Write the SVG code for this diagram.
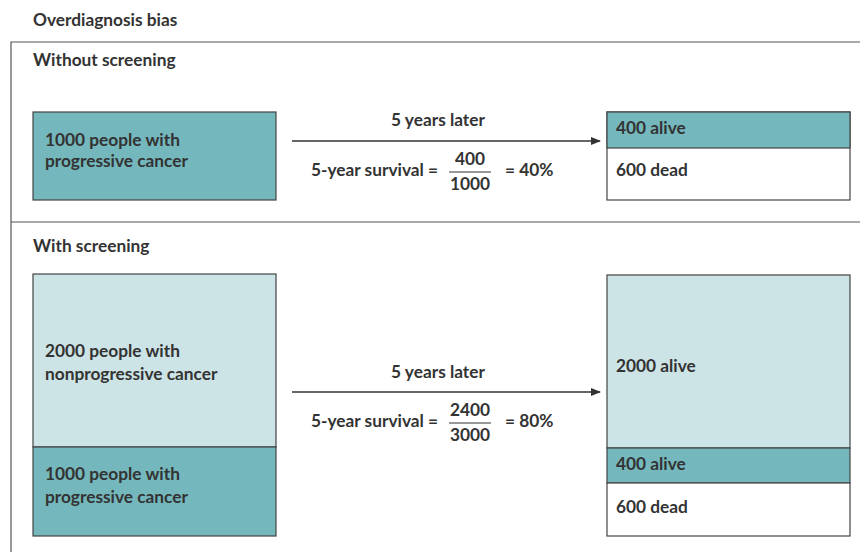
<svg xmlns="http://www.w3.org/2000/svg" width="860" height="552" viewBox="0 0 860 552">
<style>
text{font-family:Lato,"Open Sans",sans-serif;font-weight:700;font-size:17.3px;fill:#333}
.frame{stroke:#555;stroke-width:1.2;fill:none}
.box{stroke:#444;stroke-width:1.2}
.dark{fill:#74b8bd}
.light{fill:#cde4e6}
.white{fill:#fff}
.mid{text-anchor:middle}
.conn{stroke:#333;stroke-width:1.3;fill:none}
</style>
<defs>
<marker id="ah" markerWidth="10" markerHeight="8" refX="9" refY="4" orient="auto" markerUnits="userSpaceOnUse">
<path d="M0,0 L10,4 L0,8 z" fill="#333"/>
</marker>
</defs>
<rect width="860" height="552" fill="#fff"/>
<text x="33" y="26">Overdiagnosis bias</text>
<g id="frame" class="frame">
<path d="M11,552 V42 H860"/>
<path d="M11,222 H860"/>
</g>
<text x="33" y="66">Without screening</text>
<text x="33" y="252">With screening</text>
<g id="top-left">
<rect class="box dark" x="33" y="112" width="243" height="88"/>
<text x="45" y="146">1000 people with</text>
<text x="45" y="167">progressive cancer</text>
</g>
<g id="top-right">
<rect class="box white" x="607" y="112" width="243" height="88"/>
<rect class="box dark" x="607" y="112" width="243" height="36"/>
<text x="616" y="134">400 alive</text>
<text x="616" y="176">600 dead</text>
</g>
<g id="bottom-left">
<rect class="box light" x="33" y="274" width="243" height="173"/>
<rect class="box dark" x="33" y="447" width="243" height="89"/>
<text x="45" y="357">2000 people with</text>
<text x="45" y="380">nonprogressive cancer</text>
<text x="45" y="480">1000 people with</text>
<text x="45" y="503">progressive cancer</text>
</g>
<g id="bottom-right">
<rect class="box light" x="607" y="275" width="243" height="173"/>
<rect class="box dark" x="607" y="448" width="243" height="35"/>
<rect class="box white" x="607" y="483" width="243" height="53"/>
<text x="616" y="372">2000 alive</text>
<text x="616" y="470">400 alive</text>
<text x="616" y="513">600 dead</text>
</g>
<g id="connectors">
<line class="conn" x1="292" y1="141" x2="600" y2="141" marker-end="url(#ah)"/>
<line class="conn" x1="292" y1="392" x2="600" y2="392" marker-end="url(#ah)"/>
</g>
<g id="label-top">
<text class="mid" x="438" y="126">5 years later</text>
<text x="311" y="176">5-year survival =</text>
<text class="mid" x="470" y="165">400</text>
<line x1="449" y1="172" x2="491" y2="172" stroke="#333" stroke-width="1.2"/>
<text class="mid" x="470" y="190">1000</text>
<text x="505" y="176">= 40%</text>
</g>
<g id="label-bottom">
<text class="mid" x="438" y="378">5 years later</text>
<text x="311" y="427">5-year survival =</text>
<text class="mid" x="470" y="416">2400</text>
<line x1="449" y1="423" x2="491" y2="423" stroke="#333" stroke-width="1.2"/>
<text class="mid" x="470" y="441">3000</text>
<text x="505" y="427">= 80%</text>
</g>
</svg>
